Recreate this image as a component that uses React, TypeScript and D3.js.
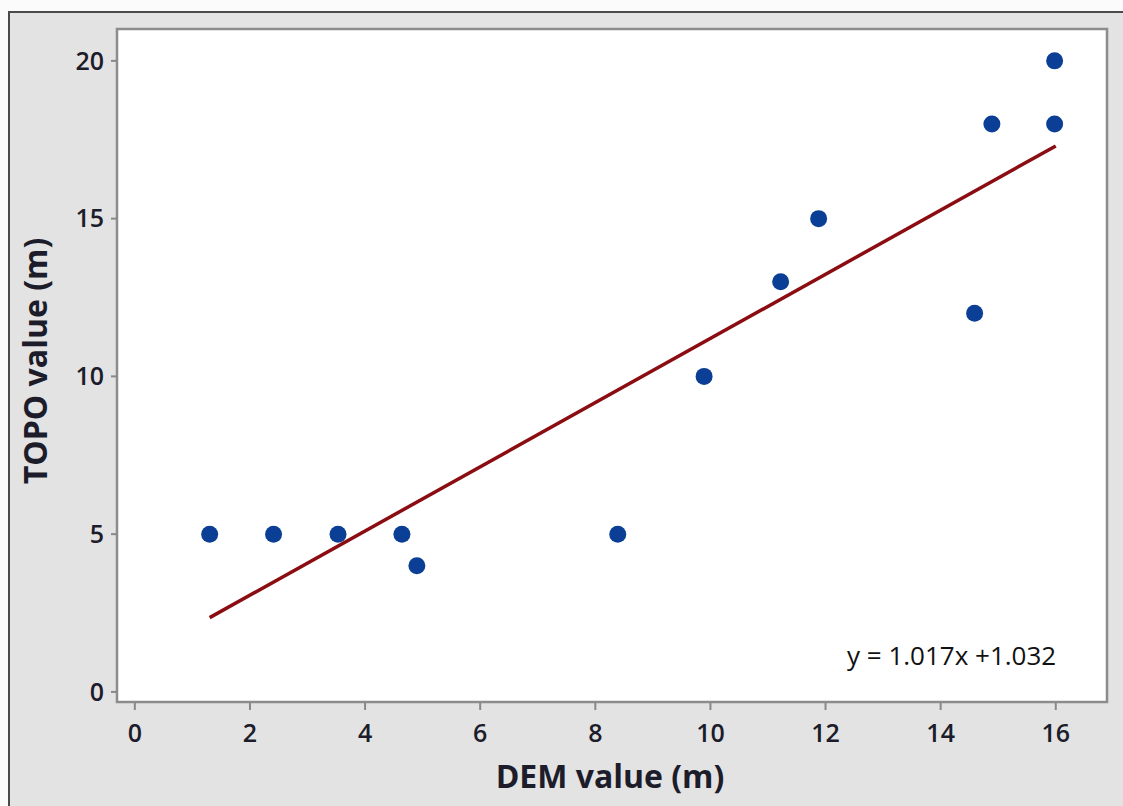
import React from "react";
import * as d3 from "d3";

// DEM vs TOPO elevation samples (m)
const demValues = [1.3, 2.41, 3.53, 4.64, 4.9, 8.39, 9.89, 11.22, 11.88, 14.59, 14.89, 15.98, 15.98];
const topoValues = [5, 5, 5, 5, 4, 5, 10, 13, 15, 12, 18, 18, 20];
const xTicks = [0, 2, 4, 6, 8, 10, 12, 14, 16];
const yTicks = [0, 5, 10, 15, 20];
const slope = 1.017;
const intercept = 1.032;
const fitRange = [1.3, 16];

const W = 1123;
const H = 806;
const plot = { left: 117, top: 29, right: 1107, bottom: 702 };
const FONT = "'Open Sans', 'DejaVu Sans', sans-serif";

export default function App() {
  const x = d3.scaleLinear().domain([-0.31, 16.89]).range([plot.left, plot.right]);
  const y = d3.scaleLinear().domain([-0.32, 21.01]).range([plot.bottom, plot.top]);

  const fitLine = d3
    .line<number>()
    .x((d) => x(d))
    .y((d) => y(slope * d + intercept))(fitRange);

  return (
    <svg
      width={W}
      height={H}
      style={{ position: "absolute", left: 0, top: 0, display: "block" }}
      fontFamily={FONT}
    >
      <rect x={0} y={0} width={W} height={H} fill="#fbfbfb" />
      {/* outer frame */}
      <rect x={9} y={12} width={W + 20} height={H + 20} fill="#e3e3e3" stroke="#4a4a4a" strokeWidth={2} />
      {/* plot area */}
      <rect
        x={plot.left}
        y={plot.top}
        width={plot.right - plot.left}
        height={plot.bottom - plot.top}
        fill="#ffffff"
        stroke="#8c8c8c"
        strokeWidth={2.5}
      />

      {/* y axis */}
      {yTicks.map((t) => (
        <g key={"y" + t}>
          <line x1={plot.left - 6} x2={plot.left - 1} y1={y(t)} y2={y(t)} stroke="#888" strokeWidth={2} />
          <text
            x={plot.left - 13}
            y={y(t)}
            dy="0.35em"
            textAnchor="end"
            fontSize={25}
            fontWeight={600}
            fill="#1c1c2a"
          >
            {t}
          </text>
        </g>
      ))}

      {/* x axis */}
      {xTicks.map((t) => (
        <g key={"x" + t}>
          <line x1={x(t)} x2={x(t)} y1={plot.bottom + 1} y2={plot.bottom + 8} stroke="#888" strokeWidth={2} />
          <text x={x(t)} y={742} textAnchor="middle" fontSize={25} fontWeight={600} fill="#1c1c2a">
            {t}
          </text>
        </g>
      ))}

      {/* axis titles */}
      <text x={610} y={788} textAnchor="middle" fontSize={32} fontWeight={700} fill="#1c1c2a">
        DEM value (m)
      </text>
      <text
        transform={`translate(47, 361) rotate(-90)`}
        textAnchor="middle"
        fontSize={32}
        fontWeight={700}
        fill="#1c1c2a"
      >
        TOPO value (m)
      </text>

      {/* regression line */}
      <path d={fitLine ?? ""} fill="none" stroke="#8b0d12" strokeWidth={3.5} />

      {/* points */}
      {demValues.map((d, i) => (
        <circle key={i} cx={x(d)} cy={y(topoValues[i])} r={8.5} fill="#0b3f95" />
      ))}

      {/* equation */}
      <text x={847} y={665} fontSize={26} fill="#111">
        y = 1.017x +1.032
      </text>
    </svg>
  );
}
